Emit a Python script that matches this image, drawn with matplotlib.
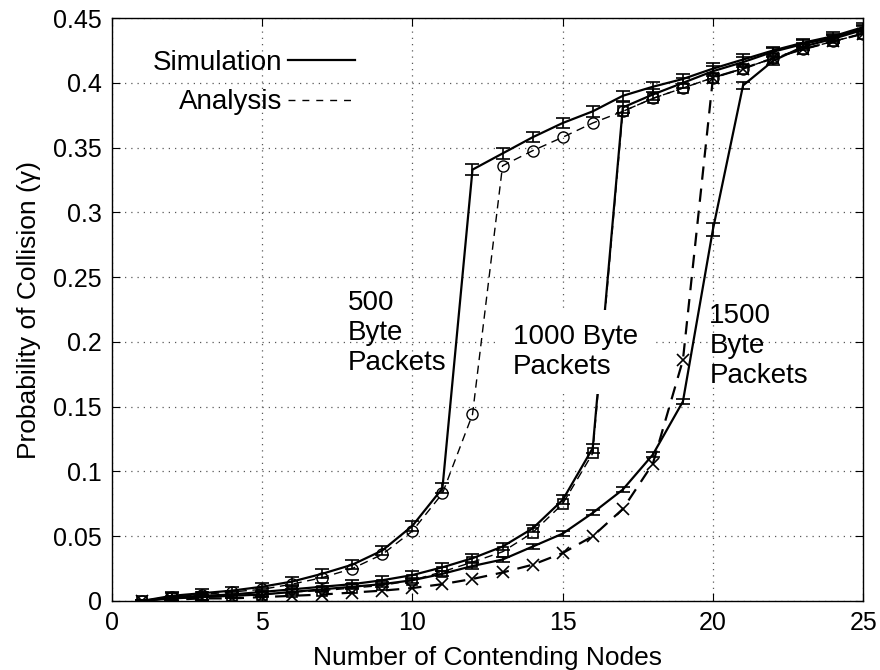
import numpy as np
import matplotlib
matplotlib.use("Agg")
import matplotlib.pyplot as plt
from matplotlib.lines import Line2D
from matplotlib.ticker import FormatStrFormatter

plt.rcParams['font.family'] = ['Liberation Sans', 'DejaVu Sans']

nodes = np.arange(1, 26)

# simulation results (mean and error) and analytical model, per packet size
sim500 = [0, .004, .006, .008, .011, .015, .021, .028, .039, .058, .087, .333, .3455,
          .358, .369, .378, .390, .397, .403, .411, .418, .425, .431, .436, .443]
err500 = [.001, .003, .003, .003, .003, .0035, .0035, .0035, .0035, .004, .004, .004, .004,
          .004, .004, .004, .004, .004, .004, .004, .004, .003, .003, .003, .003]
ana500 = [0, .003, .005, .007, .009, .013, .018, .025, .036, .054, .083, .144, .336,
          .3476, .358, .369, .378, .388, .396, .404, .411, .419, .426, .432, .438]

sim1000 = [0, .003, .004, .005, .007, .009, .011, .013, .016, .020, .026, .033, .042,
           .056, .078, .118, .381, .391, .400, .409, .416, .424, .430, .435, .442]
err1000 = [.001, .003, .003, .003, .003, .003, .003, .003, .003, .003, .003, .003, .003,
           .003, .0035, .0035, .004, .004, .004, .004, .004, .003, .003, .003, .003]
ana1000 = [0, .002, .003, .004, .005, .007, .008, .010, .012, .016, .0226, .030, .038,
           .0527, .075, .114, .378, .388, .396, .404, .411, .419, .426, .432, .438]

sim1500 = [0, .002, .003, .004, .005, .007, .009, .011, .013, .016, .021, .027, .032,
           .042, .052, .068, .086, .113, .154, .287, .398, .417, .428, .434, .441]
err1500 = [.001, .002, .002, .002, .002, .002, .002, .002, .002, .002, .002, .002, .002,
           .002, .002, .002, .002, .002, .002, .005, .003, .003, .003, .003, .003]
ana1500 = [0, .001, .002, .002, .003, .004, .005, .0065, .008, .010, .013, .017, .022,
           .028, .037, .050, .071, .106, .186, .404, .411, .419, .426, .432, .438]

fig = plt.figure(figsize=(8.8, 6.7), dpi=100)
ax = fig.add_axes([0.127, 0.103, 0.854, 0.870])

for sim, err in [(sim500, err500), (sim1000, err1000), (sim1500, err1500)]:
    ax.errorbar(nodes, sim, yerr=err, fmt='-', color='k', lw=1.6,
                elinewidth=1.2, capsize=5, capthick=1.2)

ax.plot(nodes, ana500, color='k', ls='--', dashes=(6, 4), lw=1.0,
        marker='o', ms=8, mfc='none', mew=1.0)
ax.plot(nodes, ana1000, color='k', ls='--', dashes=(6, 4), lw=1.0,
        marker='s', ms=7, mfc='none', mew=1.2)
ax.plot(nodes, ana1500, color='k', ls='--', dashes=(6, 4), lw=1.6,
        marker='x', ms=8, mew=1.2)

ax.set_xlim(0, 25)
ax.set_ylim(0, 0.45)
ax.set_xticks(np.arange(0, 26, 5))
ax.set_yticks(np.arange(0, 0.451, 0.05))
ax.yaxis.set_major_formatter(FormatStrFormatter('%g'))
ax.tick_params(direction='in', top=True, right=True, length=6, width=0.8,
               labelsize=18, pad=7)
ax.grid(True, ls=(0, (1, 4)), color='0.35', lw=0.9)
for s in ax.spines.values():
    s.set_linewidth(1.0)

ax.set_xlabel('Number of Contending Nodes', fontsize=19, labelpad=8)
ax.set_ylabel('Probability of Collision (γ)', fontsize=19, labelpad=9)

ax.text(7.85, 0.207, '500\nByte\nPackets', fontsize=20, ha='left', va='center',
        linespacing=1.2)
ax.text(13.35, 0.192, '1000 Byte\nPackets', fontsize=20, ha='left', va='center',
        linespacing=1.2, zorder=5,
        bbox=dict(facecolor='white', edgecolor='none', pad=10))
ax.text(19.88, 0.197, '1500\nByte\nPackets', fontsize=20, ha='left', va='center',
        linespacing=1.2)

handles = [Line2D([], [], color='k', lw=1.6),
           Line2D([], [], color='k', lw=1.0, ls='--', dashes=(5, 5))]
ax.legend(handles, ['Simulation', 'Analysis'], loc='upper left',
          bbox_to_anchor=(0.04, 0.965), frameon=False, markerfirst=False,
          fontsize=20, handlelength=2.4, handletextpad=0.2, labelspacing=0.5,
          borderaxespad=0)

fig.savefig('out.png', dpi=100)
